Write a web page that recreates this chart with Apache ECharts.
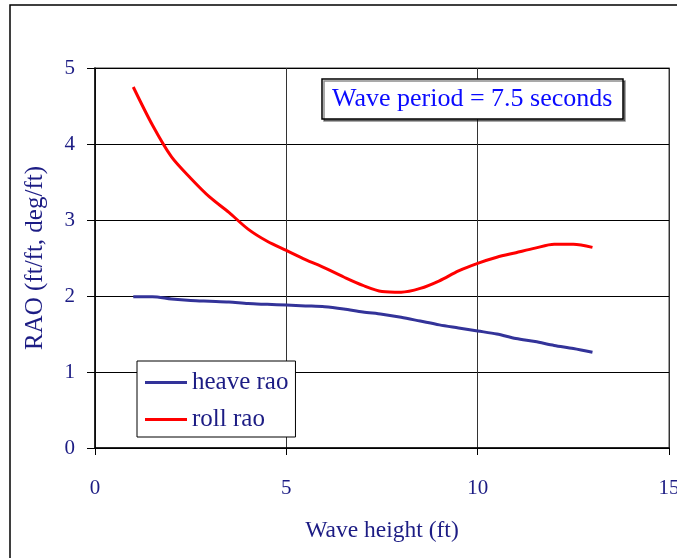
<!DOCTYPE html>
<html>
<head>
<meta charset="utf-8">
<script src="https://cdn.jsdelivr.net/npm/echarts@6/dist/echarts.min.js"></script>
<style>html,body{margin:0;padding:0;background:#fff}#chart{width:677px;height:558px}</style>
</head>
<body>
<div id="chart"></div>
<script>
// Wave heights (ft)
var waveHeight = [1, 1.5, 2, 2.5, 3, 3.5, 4, 4.5, 5, 5.5, 6, 6.5, 7, 7.5, 8, 8.5, 9, 9.5, 10, 10.5, 11, 11.5, 12, 12.5, 13];
var heaveRao = [1.99, 1.99, 1.96, 1.94, 1.93, 1.92, 1.90, 1.89, 1.88, 1.87, 1.86, 1.83, 1.79, 1.76, 1.72, 1.67, 1.62, 1.58, 1.54, 1.50, 1.44, 1.40, 1.35, 1.31, 1.26];
var rollRao = [4.75, 4.25, 3.83, 3.55, 3.30, 3.10, 2.88, 2.72, 2.60, 2.48, 2.37, 2.25, 2.14, 2.06, 2.05, 2.10, 2.20, 2.33, 2.43, 2.51, 2.57, 2.63, 2.68, 2.68, 2.64];
var seriesNames = ['heave rao', 'roll rao'];
var boxText = 'Wave period = 7.5 seconds';
var xTitle = 'Wave height (ft)';
var yTitle = 'RAO (ft/ft, deg/ft)';

function pairs(xs, ys) { return xs.map(function (x, i) { return [x, ys[i]]; }); }

var navy = '#1c1c84';
var font = '"Liberation Serif", "Times New Roman", serif';
var chart = echarts.init(document.getElementById('chart'), null, { renderer: 'canvas' });
chart.setOption({
  animation: false,
  backgroundColor: '#fff',
  textStyle: { fontFamily: font },
  title: {
    text: boxText,
    left: 322, top: 79,
    padding: [5, 11, 5, 10],
    backgroundColor: '#fff',
    borderColor: '#000', borderWidth: 1.5,
    shadowColor: 'rgba(0,0,0,0.45)', shadowOffsetX: 2, shadowOffsetY: 2, shadowBlur: 0,
    textStyle: { color: '#0a0aff', fontSize: 26, fontWeight: 'normal', fontFamily: font, lineHeight: 30 }
  },
  legend: {
    orient: 'vertical',
    left: 137, top: 361,
    padding: [9, 7, 5, 8],
    itemGap: 12,
    itemWidth: 42, itemHeight: 3,
    icon: 'rect',
    backgroundColor: '#fff',
    borderColor: '#000', borderWidth: 1,
    data: seriesNames,
    textStyle: { color: navy, fontSize: 25, fontFamily: font, lineHeight: 24 }
  },
  grid: {
    left: 95, top: 68, right: 8, bottom: 110,
    containLabel: false, outerBoundsMode: 'none',
    show: true, borderColor: '#808080', borderWidth: 1.5, backgroundColor: 'transparent'
  },
  xAxis: {
    type: 'value', min: 0, max: 15, interval: 5,
    name: xTitle, nameLocation: 'middle', nameGap: 71,
    nameTextStyle: { color: navy, fontSize: 23.5, fontFamily: font },
    axisLine: { show: true, onZero: false, lineStyle: { color: '#000', width: 1.5 } },
    axisTick: { show: true, inside: false, length: 7, lineStyle: { color: '#000', width: 1 } },
    axisLabel: { color: navy, fontSize: 21, margin: 30, fontFamily: font, hideOverlap: false },
    splitLine: { show: true, lineStyle: { color: '#333', width: 1 } }
  },
  yAxis: {
    type: 'value', min: 0, max: 5, interval: 1,
    name: yTitle, nameLocation: 'middle', nameGap: 47, nameRotate: 90,
    nameTextStyle: { color: navy, fontSize: 25, fontFamily: font },
    axisLine: { show: true, onZero: false, lineStyle: { color: '#000', width: 1.5 } },
    axisTick: { show: true, inside: false, length: 8, lineStyle: { color: '#000', width: 1 } },
    axisLabel: { color: navy, fontSize: 21, margin: 20, fontFamily: font },
    splitLine: { show: true, lineStyle: { color: '#000', width: 1 } }
  },
  graphic: [{
    type: 'rect', silent: true, z: -1,
    shape: { x: 10, y: 5, width: 800, height: 700 },
    style: { fill: null, stroke: '#000', lineWidth: 1.5 }
  }],
  series: [{
    name: seriesNames[0], type: 'line', data: pairs(waveHeight, heaveRao),
    showSymbol: false, smooth: 0.3,
    lineStyle: { color: '#333399', width: 3 }, itemStyle: { color: '#333399' }
  }, {
    name: seriesNames[1], type: 'line', data: pairs(waveHeight, rollRao),
    showSymbol: false, smooth: 0.3,
    lineStyle: { color: '#ff0000', width: 3 }, itemStyle: { color: '#ff0000' }
  }]
});
</script>
</body>
</html>
